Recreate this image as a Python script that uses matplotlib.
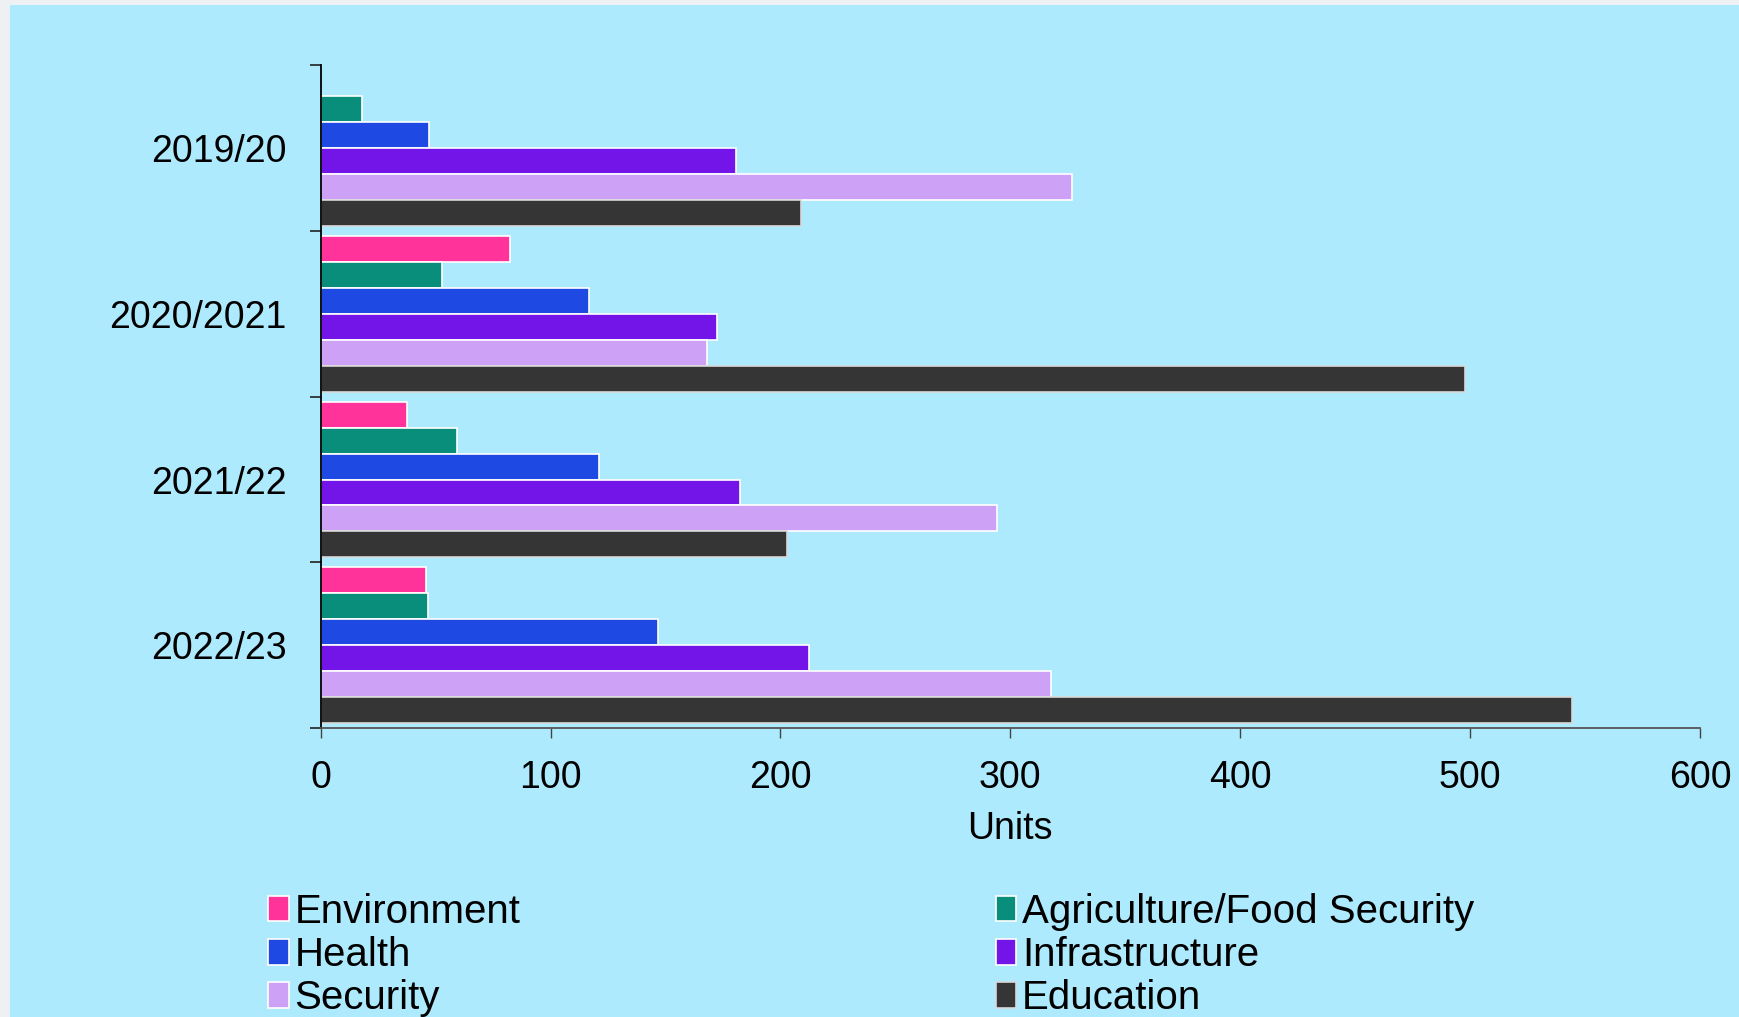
import numpy as np
import matplotlib
matplotlib.use("Agg")
import matplotlib.pyplot as plt
from matplotlib.patches import Rectangle

plt.rcParams['font.family'] = ['Liberation Sans', 'DejaVu Sans']

years = ["2019/20", "2020/2021", "2021/22", "2022/23"]
sectors = ["Environment", "Agriculture/Food Security", "Health",
           "Infrastructure", "Security", "Education"]
environment = [np.nan, 82.5, 37.6, 45.9]
agriculture = [18, 52.6, 59.4, 46.8]
health = [47.3, 116.8, 121.2, 146.7]
infrastructure = [180.5, 172.3, 182.5, 212.4]
security = [326.8, 168, 294.4, 317.6]
education = [209, 497.7, 202.7, 544.5]
colors = ["#ff3399", "#0a8e7c", "#1e4ae3", "#7314e9", "#cca1f6", "#353535"]

values = [environment, agriculture, health, infrastructure, security, education]

bg = "#aeeafe"
fig = plt.figure(figsize=(17.4, 10.17), dpi=100, facecolor=bg)
# light patterned page border at left and top
fig.patches.append(Rectangle((0, 0), 10 / 1740, 1, transform=fig.transFigure,
                             facecolor="#eef1f3", edgecolor="none", zorder=-5))
fig.patches.append(Rectangle((0, 1 - 5 / 1017), 1, 5 / 1017, transform=fig.transFigure,
                             facecolor="#eef1f3", edgecolor="none", zorder=-5))
ax = fig.add_axes([0.1843, 0.2842, 0.977 - 0.1843, 0.9356 - 0.2842])
ax.set_facecolor(bg)

h = 0.94 / 6
y = np.arange(len(years))
handles = []
for j, (name, vals, c) in enumerate(zip(sectors, values, colors)):
    pos = y - 0.47 + (j + 0.5) * h
    ec = "#d8d8d8" if name == "Education" else "white"
    b = ax.barh(pos, vals, height=h, color=c, edgecolor=ec, linewidth=1.2, label=name)
    handles.append(b)

ax.set_xlim(0, 600)
ax.set_ylim(3.5, -0.5)
ax.set_xticks([0, 100, 200, 300, 400, 500, 600])
ax.set_yticks(np.arange(-0.5, 4, 1))
ax.set_yticklabels([])
ax.set_yticks(y, minor=True)
ax.set_yticklabels(years, minor=True)
ax.tick_params(axis='y', which='major', length=11 * 0.72, width=1.2, color="#222222")
ax.tick_params(axis='y', which='minor', length=0, pad=34 * 0.72, labelsize=27)
ax.tick_params(axis='x', length=10 * 0.72, width=1, pad=16, labelsize=27, color="#444444")
for s in ["top", "right"]:
    ax.spines[s].set_visible(False)
ax.spines["left"].set_linewidth(1.3)
ax.spines["bottom"].set_linewidth(1.3)
ax.spines["bottom"].set_color("#555555")
ax.set_xlabel("Units", fontsize=27, labelpad=11)

order = [0, 2, 4, 1, 3, 5]
leg = fig.legend([handles[i] for i in order], [sectors[i] for i in order],
                 ncol=2, loc="upper left", bbox_to_anchor=(0.145, 0.138),
                 frameon=False, fontsize=29, handlelength=0.5, handleheight=0.6,
                 handletextpad=0.15, columnspacing=11.8, labelspacing=0.13,
                 borderaxespad=0)

fig.savefig("out.png", dpi=100, facecolor=fig.get_facecolor())
